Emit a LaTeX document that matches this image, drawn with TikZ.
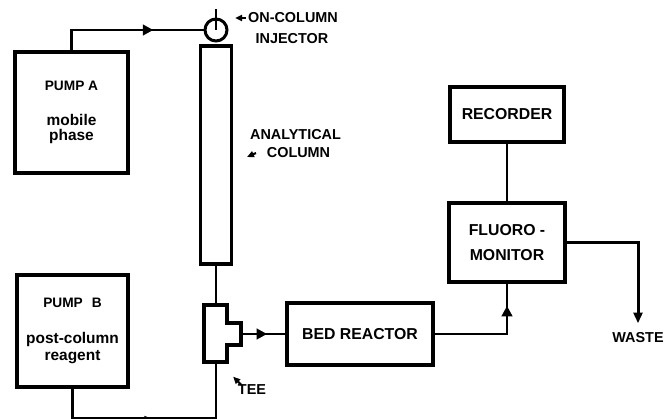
\documentclass[tikz,border=0pt]{standalone}
\usepackage{fontspec}
\setmainfont{Liberation Sans}
\usetikzlibrary{arrows.meta, decorations.markings}
\newcommand{\lowtxt}{\fontsize{8.8}{7}\selectfont}
\tikzset{
  heavy/.style={draw=black, line width=2.1pt},
  blk/.style={heavy, inner sep=0pt, align=center,
              font=\fontsize{9}{14.2}\selectfont\bfseries},
  pumpbox/.style={blk, font=\fontsize{7.8}{7}\selectfont\bfseries},
  pipe/.style={draw=black, line width=1.7pt},
  flowtip/.style={postaction={decorate}, decoration={markings,
      mark=at position #1 with {\arrow{Triangle[length=6pt, width=6pt]}}}},
  smalltip/.style={postaction={decorate}, decoration={markings,
      mark=at position #1 with {\arrow{Triangle[length=5pt, width=3pt]}}}},
  tagtip/.style={-{Triangle[length=4pt, width=3.5pt]}, line width=1.2pt},
  lbl/.style={font=\fontsize{8.2}{10}\selectfont\bfseries, inner sep=1pt},
}

\begin{document}
\begin{tikzpicture}[x=0.02cm, y=-0.02cm]
  \useasboundingbox (0,0) rectangle (666,419);

  % pumps
  \node[pumpbox, minimum width=2.26cm, minimum height=2.42cm] (pumpa) at (71.5,112.5)
    {PUMP A\\[13pt]\lowtxt mobile\\[1.6pt]\lowtxt phase};
  \node[pumpbox, minimum width=2.22cm, minimum height=2.24cm] (pumpb) at (72.5,331)
    {PUMP\hspace{0.18cm}B\\[13pt]\lowtxt post-column\\[1.2pt]\lowtxt reagent};

  % injector + column
  \node[circle, pipe, minimum size=0.44cm, inner sep=0pt] (inj) at (216,30) {};
  \draw[pipe] (inj.center) -- ([yshift=0.18cm]inj.north);
  \node[blk, line width=1.9pt, minimum width=0.62cm, minimum height=4.36cm] (col) at (216,155) {};

  % tee piece
  \coordinate (teetop) at (216,305);
  \coordinate (teebot) at (216,362);
  \coordinate (teeout) at (241,334);
  \draw[heavy] (204,305) -- (227,305) -- (227,323) -- (241,323)
    -- (241,345) -- (227,345) -- (227,362) -- (204,362) -- cycle;

  % detection side
  \node[blk, minimum width=2.92cm, minimum height=1.24cm] (bed) at (360,334) {BED REACTOR};
  \node[blk, minimum width=2.32cm, minimum height=1.58cm] (fm) at (507,242.5) {FLUORO -\\MONITOR};
  \node[blk, minimum width=2.28cm, minimum height=1.10cm] (rec) at (507,114.5) {RECORDER};
  \node[lbl] (waste) at (638,337.5) {WASTE};

  % labels
  \node[lbl] (onlbl) at (293,18) {ON-COLUMN};
  \node[lbl] (injlbl) at (292,39) {INJECTOR};
  \node[lbl] (anlbl) at (295.5,135) {ANALYTICAL};
  \node[lbl] (colbl) at (298.5,153) {COLUMN};
  \node[lbl] (teelbl) at (252,390) {TEE};
  \draw[tagtip] (onlbl.west) -- ++(-11,0);
  \draw[tagtip] ([xshift=-5pt]colbl.west) -- ++(-9,4);
  \draw[tagtip] ([xshift=3pt,yshift=-1pt]teelbl.north west) -- ++(-8,-8);

  % flow lines
  \draw[pipe, flowtip=0.67] (pumpa.north) |- (inj.west);
  \draw[pipe] (col.south) -- (teetop);
  \draw[pipe, flowtip=0.59] (teeout) -- (bed.west);
  \draw[pipe, smalltip=0.48] (pumpb.south) -- ++(0,30) -| (teebot);
  \draw[pipe, flowtip=0.82] (bed.east) -| (fm.south);
  \draw[pipe] (rec.south) -- (fm.north);
  \draw[pipe, -{Triangle[length=6pt, width=5pt]}] (fm.east) -| ([yshift=4pt]waste.north);

\end{tikzpicture}
\end{document}
